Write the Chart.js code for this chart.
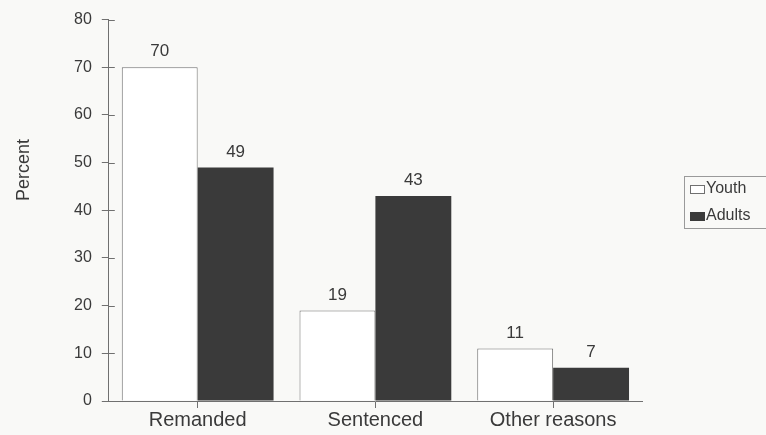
<!DOCTYPE html>
<html>
<head>
<meta charset="utf-8">
<script src="https://cdn.jsdelivr.net/npm/chart.js@4"></script>
<style>
  html, body { margin: 0; padding: 0; background: #f9f9f7; }
  #wrap { width: 766px; height: 435px; position: relative; }
</style>
</head>
<body>
<div id="wrap"><canvas id="reasonChart"></canvas></div>
<script>
const categories = ["Remanded", "Sentenced", "Other reasons"];
const youthValues = [70, 19, 11];
const adultValues = [49, 43, 7];
const yTicks = [0, 10, 20, 30, 40, 50, 60, 70, 80];

const inkColor = "#3a3a3a";
const lineColor = "#707070";
const fontFamily = "'Liberation Sans', Arial, sans-serif";

// value labels above each bar
const valueLabels = {
  id: "valueLabels",
  afterDatasetsDraw(chart) {
    const ctx = chart.ctx;
    ctx.save();
    ctx.fillStyle = inkColor;
    ctx.font = "17px " + fontFamily;
    ctx.textAlign = "center";
    ctx.textBaseline = "bottom";
    chart.data.datasets.forEach(function (ds, i) {
      chart.getDatasetMeta(i).data.forEach(function (bar, j) {
        ctx.fillText(ds.data[j], bar.x, bar.y - 7);
      });
    });
    ctx.restore();
  }
};

// y title, inner halves of the y ticks, legend
const extras = {
  id: "extras",
  afterDraw(chart) {
    const ctx = chart.ctx;
    const y = chart.scales.y;
    const area = chart.chartArea;

    ctx.save();
    ctx.strokeStyle = lineColor;
    ctx.lineWidth = 1;
    yTicks.forEach(function (v) {
      const py = Math.round(y.getPixelForValue(v)) + 0.5;
      ctx.beginPath();
      ctx.moveTo(area.left, py);
      ctx.lineTo(area.left + 6, py);
      ctx.stroke();
    });
    ctx.restore();

    ctx.save();
    ctx.fillStyle = inkColor;
    ctx.font = "18px " + fontFamily;
    ctx.textAlign = "center";
    ctx.textBaseline = "middle";
    ctx.translate(24, 170);
    ctx.rotate(-Math.PI / 2);
    ctx.fillText("Percent", 0, 0);
    ctx.restore();

    // legend
    const lx = 684, ly = 176, lw = 90, lh = 52;
    ctx.save();
    ctx.strokeStyle = "#9a9a9a";
    ctx.lineWidth = 1;
    ctx.strokeRect(lx + 0.5, ly + 0.5, lw, lh);
    ctx.font = "16px " + fontFamily;
    ctx.textBaseline = "middle";
    ctx.textAlign = "left";
    chart.data.datasets.forEach(function (ds, i) {
      const cy = ly + 13 + i * 27;
      ctx.fillStyle = ds.backgroundColor;
      ctx.fillRect(lx + 6, cy - 4, 15, 9);
      if (i === 0) {
        ctx.strokeStyle = lineColor;
        ctx.strokeRect(lx + 6.5, cy - 3.5, 14, 8);
      }
      ctx.fillStyle = inkColor;
      ctx.fillText(ds.label, lx + 22, cy);
    });
    ctx.restore();
  }
};

new Chart(document.getElementById("reasonChart"), {
  type: "bar",
  data: {
    labels: categories,
    datasets: [
      { label: "Youth", data: youthValues, backgroundColor: "#ffffff", borderColor: lineColor, borderWidth: 1 },
      { label: "Adults", data: adultValues, backgroundColor: inkColor, borderColor: inkColor, borderWidth: 0 }
    ]
  },
  options: {
    responsive: true,
    maintainAspectRatio: false,
    animation: false,
    categoryPercentage: 0.854,
    barPercentage: 1.0,
    layout: {
      padding: { left: 64, right: 124, top: 13, bottom: 3 }
    },
    plugins: {
      legend: { display: false },
      tooltip: { enabled: false }
    },
    scales: {
      x: {
        grid: { offset: false, drawOnChartArea: false, drawTicks: true, tickLength: 7, color: lineColor },
        border: { color: lineColor, width: 1 },
        ticks: { color: inkColor, font: { family: fontFamily, size: 20 }, padding: 0 }
      },
      y: {
        min: 0,
        max: 80,
        afterBuildTicks(scale) { scale.ticks = yTicks.map(function (v) { return { value: v }; }); },
        grid: { drawOnChartArea: false, drawTicks: true, tickLength: 7, color: lineColor },
        border: { color: lineColor, width: 1 },
        ticks: { color: inkColor, font: { family: fontFamily, size: 16 }, padding: 10 }
      }
    }
  },
  plugins: [valueLabels, extras]
});
</script>
</body>
</html>
